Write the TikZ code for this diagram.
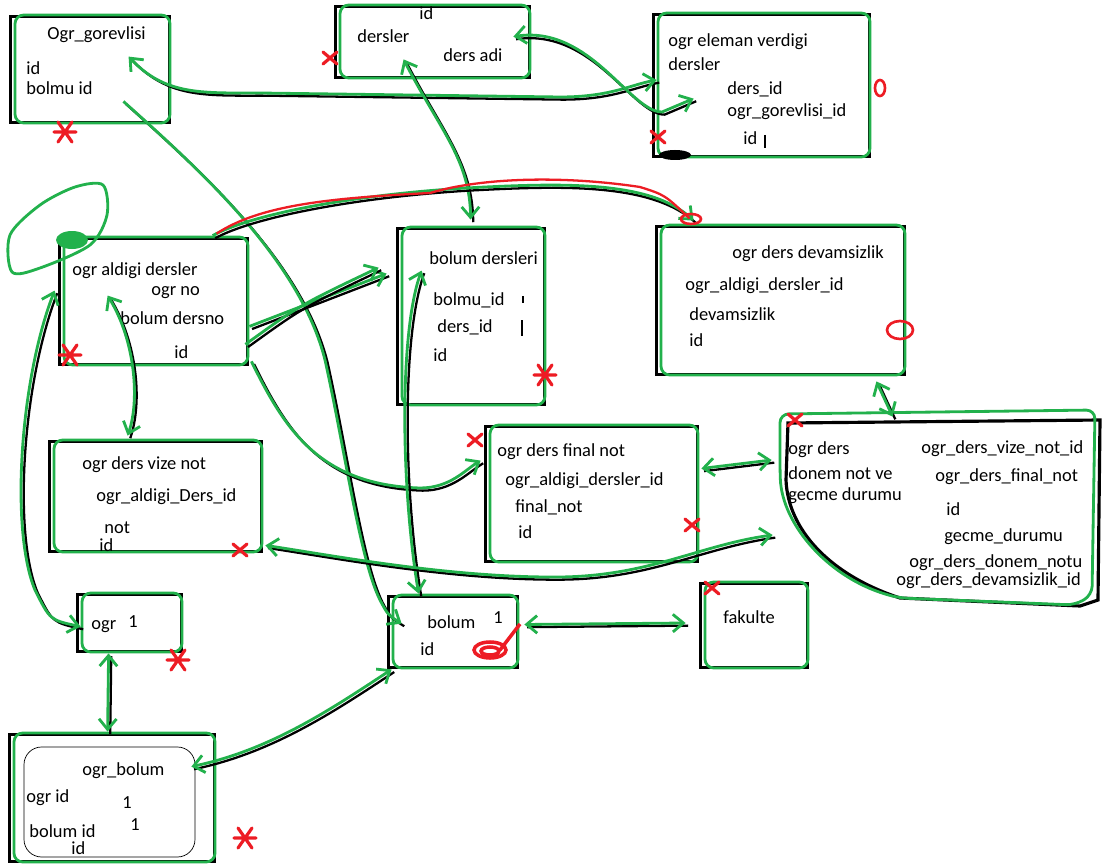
\documentclass[tikz,border=0pt]{standalone}
\usepackage{fontspec}
\setmainfont{Carlito}
\usetikzlibrary{arrows.meta,fit,backgrounds}
\definecolor{pgreen}{RGB}{34,177,76}
\definecolor{pred}{RGB}{237,28,36}
\tikzset{
  tbl/.style={draw=pgreen, line width=1.6pt, rounded corners=5pt, inner sep=0pt},
  fld/.style={anchor=west, inner sep=0pt, font=\fontsize{10.5}{12}\selectfont},
  link/.style={draw=pgreen, line width=1.6pt, >={Straight Barb[length=6pt,width=10pt]},
    preaction={draw=black, line width=1.3pt, -, transform canvas={shift={(1.5pt,-1.5pt)}}}},
  redx/.style={draw=pred, line width=1.8pt, line cap=round},
}

\begin{document}
\begin{tikzpicture}[x=0.02cm, y=-0.02cm]
\useasboundingbox (0,0) rectangle (1106,865);

% tables
\node[tbl, fit={(15,15) (170,123)}] (gorev) {};
\node[tbl, fit={(340,5) (530,78)}] (dersler) {};
\node[tbl, fit={(658,13) (870,157)}] (eleman) {};
\node[tbl, fit={(64,237) (248,365)}] (aldigi) {};
\node[tbl, fit={(402,227) (545,405)}] (bders) {};
\node[tbl, fit={(661,225) (905,375)}] (devam) {};
\node[tbl, fit={(54,440) (262,552)}] (vize) {};
\node[tbl, fit={(490,425) (698,562)}] (final) {};
\node[fit={(785,415) (1095,605)}, inner sep=0pt] (donem) {};
\node[tbl, fit={(82,593) (182,652)}] (ogr) {};
\node[tbl, fit={(393,595) (518,668)}] (bolum) {};
\node[tbl, fit={(705,582) (808,668)}] (fakulte) {};
\node[tbl, fit={(14,733) (215,862)}] (ogrbolum) {};

% donem box is drawn by hand
\draw[black, line width=1.8pt] (788,423) -- (1100,420) -- (1098,600) -- (1080,606) -- (900,598)
  .. controls (830,575) and (788,530) .. (786,480) -- cycle;
\draw[pgreen, line width=1.6pt, rounded corners=5pt] (780,414) -- (1095,410) -- (1092,595) -- (1075,605)
  -- (900,598) .. controls (830,580) and (782,525) .. (780,470) -- cycle;

\begin{scope}[on background layer]
\fill[white] (0,0) rectangle (1106,865);
\foreach \b in {gorev,dersler,eleman,aldigi,bders,devam,vize,final,ogr,bolum,fakulte,ogrbolum}
  \draw[black, line width=1.8pt] ([shift={(-3,3)}]\b.north west) rectangle ([shift={(-2,-2)}]\b.south east);
\end{scope}
\draw[thin, rounded corners=10pt] (24,747) rectangle (195,857);

% fields
\foreach \x/\y/\t [count=\i] in {
  47/35/Ogr\_gorevlisi, 26/68/id, 26/88/bolmu id,
  419/13/id, 357/36/dersler, 443/55/ders adi,
  668/42/ogr eleman verdigi, 668/64/dersler, 727/89/ders\_id, 727/112/ogr\_gorevlisi\_id, 743/138/id,
  72/271/ogr aldigi dersler, 151/293/ogr no, 120/318/bolum dersno, 174/352/id,
  429/258/bolum dersleri, 433/300/bolmu\_id, 437/327/ders\_id, 433/355/id,
  732/254/ogr ders devamsizlik, 685/286/ogr\_aldigi\_dersler\_id, 689/314/devamsizlik, 689/340/id,
  82/465/ogr ders vize not, 96/497/ogr\_aldigi\_Ders\_id, 104/528/not, 99/545/id,
  497/452/ogr ders final not, 505/481/ogr\_aldigi\_dersler\_id, 515/507/final\_not, 518/532/id,
  788/450/ogr ders, 788/473/donem not ve, 788/496/gecme durumu,
  921/449/ogr\_ders\_vize\_not\_id, 935/477/ogr\_ders\_final\_not, 946/509/id,
  944/537/gecme\_durumu, 909/563/ogr\_ders\_donem\_notu, 896/581/ogr\_ders\_devamsizlik\_id,
  91/627/ogr, 128/622/1,
  427/622/bolum, 493/618/1, 420/649/id,
  723/617/fakulte,
  82/771/ogr\_bolum, 26/798/ogr id, 122/803/1, 29/831/bolum id, 130/825/1, 71/848/id}
  \node[fld] (f\i) at (\x,\y) {\t};

% links
\draw[link,<->] ([shift={(115,43)}]gorev.north west) .. controls (165,95) and (200,93) .. (260,93)
  -- (560,97) .. controls (610,97) and (630,85) .. ([shift={(0,-5)}]eleman.west);
\draw[link,<->] ([shift={(-18,33)}]dersler.north east) .. controls (590,25) and (630,112) .. (662,112)
  -- ([shift={(37,87)}]eleman.north west);
\draw[link,<->] ([shift={(65,-20)}]dersler.south west) .. controls (440,130) and (470,160) .. ([shift={(70,-6)}]bders.north west);
\draw[link,->] ([shift={(-48,-23)}]gorev.south east) .. controls (200,170) and (300,260) .. (325,360)
  .. controls (345,450) and (360,560) .. (380,600) .. controls (388,615) .. ([shift={(10,30)}]bolum.north west);
\draw[link,->] ([shift={(0,-40)}]aldigi.south east) -- ([shift={(-14,48)}]bders.north west);
\draw[link,->] ([shift={(-4,-22)}]aldigi.south east) .. controls (300,305) .. ([shift={(-22,42)}]bders.north west);
\draw[link,->] ([shift={(2,-5)}]aldigi.south east) .. controls (285,430) and (320,485) .. (420,488)
  .. controls (450,488) and (465,470) .. ([shift={(-8,37)}]final.north west);
\draw[link,<->] ([shift={(45,60)}]aldigi.north west) .. controls (135,340) and (140,400) .. ([shift={(75,-3)}]vize.north west);
\draw[link,<->] ([shift={(-8,55)}]aldigi.north west) .. controls (20,380) and (10,530) .. (35,590)
  .. controls (50,620) .. ([shift={(0,35)}]ogr.north west);
\draw[link,->] ([shift={(150,0)}]aldigi.north west) .. controls (250,215) and (350,195) .. (466,188)
  .. controls (560,183) and (650,180) .. ([shift={(34,-3)}]devam.north west);
\draw[pred, line width=1.3pt] ([shift={(154,-2)}]aldigi.north west) .. controls (260,205) and (330,198) .. (430,193)
  .. controls (480,178) and (560,175) .. (640,187) .. controls (665,195) .. ([shift={(30,-5)}]devam.north west);
\draw[link,<->] ([shift={(21,45)}]bders.north west) .. controls (400,330) and (400,480) .. ([shift={(27,0)}]bolum.north west);
\draw[link,<->] ([shift={(-30,5)}]devam.south east) -- ([shift={(108,2)}]donem.north west);
\draw[link,<->] ([shift={(2,-25)}]final.east) -- ([shift={(-13,-50)}]donem.west);
\draw[link,<->] ([shift={(2,-8)}]vize.south east) .. controls (330,555) and (450,578) .. (560,577)
  .. controls (650,576) and (700,545) .. ([shift={(-12,25)}]donem.west);
\draw[link,<->] ([shift={(5,-7)}]bolum.east) -- ([shift={(-18,-2)}]fakulte.west);
\draw[link,<->] (bolum.south west) .. controls (330,710) and (270,750) .. ([shift={(-25,35)}]ogrbolum.north east);
\draw[link,<->] ([shift={(28,0)}]ogr.south west) -- ([shift={(95,0)}]ogrbolum.north west);

% loop over ogr aldigi dersler
\draw[pgreen, line width=1.6pt] plot[smooth cycle] coordinates {(10,235) (40,205) (75,187) (103,185) (107,215) (90,245) (40,268) (12,272)};
\fill[pgreen] (72,240) ellipse (16 and 9);

% red marks
\foreach \x/\y in {330/58, 658/137, 240/550, 692/525, 795/420, 712/588, 475/440}
  \draw[redx] (\x-7,\y-6) -- (\x+7,\y+6) (\x-7,\y+6) -- (\x+7,\y-6);
\foreach \x/\y in {65/132, 70/355, 545/375, 178/660, 245/838}
  \draw[redx] (\x-11,\y) -- (\x+11,\y) (\x-7,\y-10) -- (\x+7,\y+10) (\x-7,\y+10) -- (\x+7,\y-10);
\draw[pred, line width=2pt] (490,650) ellipse (16 and 8) (490,651) ellipse (9 and 4) (500,650) -- (520,624);
\draw[pred, line width=1.5pt] (880,88) ellipse (5 and 8) (900,330) ellipse (13 and 9) (691,219) ellipse (10 and 5);

% stray black strokes
\fill (675,155) ellipse (16 and 5);
\draw[line width=1.5pt] (765,135) -- (765,148) (522,320) -- (522,336) (523,296) -- (523,303);
\end{tikzpicture}
\end{document}
